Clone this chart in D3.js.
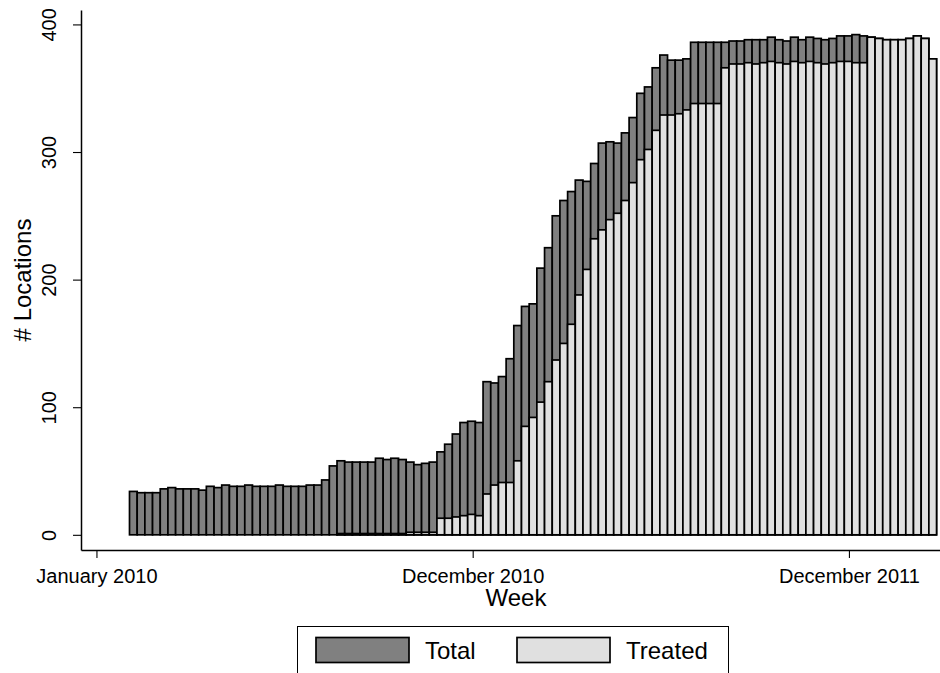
<!DOCTYPE html>
<html>
<head>
<meta charset="utf-8">
<script src="https://cdn.jsdelivr.net/npm/d3@7"></script>
<style>
  html, body { margin: 0; padding: 0; background: #ffffff; }
  svg { display: block; font-family: "Liberation Sans", Arial, Helvetica, sans-serif; }
</style>
</head>
<body>
<svg id="chart" width="940" height="673"></svg>
<script>
// ---- data ----
const totalLocations = [
  34,33,33,33,36,37,36,36,36,35,
  38,37,39,38,38,39,38,38,38,39,
  38,38,38,39,39,43,54,58,57,57,
  57,57,60,59,60,59,57,55,56,57,
  65,71,79,88,89,88,120,119,124,138,
  164,179,181,209,225,250,262,269,278,277,
  291,307,308,307,315,327,346,351,366,376,
  372,372,373,386,386,386,386,386,387,387,
  388,388,388,390,388,387,390,388,390,389,
  388,389,391,391,392,391,390,389,388,388,
  388,389,391,389,373
];
const treatedLocations = [
  0,0,0,0,0,0,0,0,0,0,
  0,0,0,0,0,0,0,0,0,0,
  0,0,0,0,0,0,0,1,1,1,
  1,1,1,1,1,1,2,2,2,2,
  13,13,14,15,16,15,32,39,41,41,
  58,85,92,104,120,137,150,165,188,208,
  232,239,247,252,262,276,294,302,317,329,
  329,330,333,338,338,338,338,366,369,369,
  370,369,370,371,370,369,371,370,371,370,
  369,370,371,371,370,370,390,389,388,388,
  388,389,391,389,373
];
const tickWeeks = [-4.8, 44.15, 93.1];
const tickLabels = ["January 2010", "December 2010", "December 2011"];
const yTicks = [0, 100, 200, 300, 400];
const seriesNames = ["Total", "Treated"];
const seriesColors = ["#808080", "#e0e0e0"];

// ---- layout ----
const svg = d3.select("#chart");
const plotLeft = 81, plotRight = 951, plotTop = 10, plotBottom = 550;

const weeks = totalLocations.map((d, i) => i);

const x = d3.scaleLinear()
  .domain([-6.81, 106.38])
  .range([plotLeft, plotRight]);

const y = d3.scaleLinear()
  .domain([-11.9, 411.3])
  .range([plotBottom, plotTop]);

const barW = x(1) - x(0);

// total bars
svg.append("g").selectAll("rect")
  .data(weeks)
  .join("rect")
  .attr("x", i => x(i - 0.5))
  .attr("width", barW)
  .attr("y", i => y(totalLocations[i]))
  .attr("height", i => y(0) - y(totalLocations[i]))
  .attr("fill", seriesColors[0])
  .attr("stroke", "#000")
  .attr("stroke-width", 1.7);

// treated bars
svg.append("g").selectAll("rect")
  .data(weeks.filter(i => treatedLocations[i] > 0))
  .join("rect")
  .attr("x", i => x(i - 0.5))
  .attr("width", barW)
  .attr("y", i => y(treatedLocations[i]))
  .attr("height", i => y(0) - y(treatedLocations[i]))
  .attr("fill", seriesColors[1])
  .attr("stroke", "#000")
  .attr("stroke-width", 1.7);

// x axis
const xAxis = d3.axisBottom(x)
  .tickValues(tickWeeks)
  .tickFormat((d, i) => tickLabels[i])
  .tickSize(8)
  .tickSizeOuter(0)
  .tickPadding(10.5);
const gx = svg.append("g")
  .attr("transform", `translate(0,${plotBottom})`)
  .call(xAxis);
gx.select(".domain").attr("stroke", "#000").attr("stroke-width", 1.5);
gx.selectAll(".tick line").attr("stroke", "#000").attr("stroke-width", 1.1);
gx.selectAll(".tick text")
  .attr("fill", "#000")
  .style("font-size", "20px")
  .style("font-family", "'Liberation Sans', Arial, sans-serif");

// y axis
const yAxis = d3.axisLeft(y)
  .tickValues(yTicks)
  .tickFormat(d3.format("d"))
  .tickSize(8)
  .tickSizeOuter(0);
const gy = svg.append("g")
  .attr("transform", `translate(${plotLeft},0)`)
  .call(yAxis);
gy.select(".domain").attr("stroke", "#000").attr("stroke-width", 1.5);
gy.selectAll(".tick line").attr("stroke", "#000").attr("stroke-width", 1.1);
gy.selectAll(".tick text")
  .attr("fill", "#000")
  .attr("transform", "rotate(-90)")
  .attr("x", 0)
  .attr("y", -25)
  .attr("dy", 0)
  .style("text-anchor", "middle")
  .style("font-size", "20px")
  .style("font-family", "'Liberation Sans', Arial, sans-serif");

// axis titles
svg.append("text")
  .attr("x", (plotLeft + plotRight) / 2)
  .attr("y", 606)
  .attr("text-anchor", "middle")
  .style("font-size", "24px")
  .text("Week");

svg.append("text")
  .attr("transform", `translate(31,${(plotTop + plotBottom) / 2}) rotate(-90)`)
  .attr("text-anchor", "middle")
  .style("font-size", "24px")
  .text("# Locations");

// legend
const legend = svg.append("g");
legend.append("rect")
  .attr("x", 297.5).attr("y", 626.5)
  .attr("width", 431).attr("height", 70)
  .attr("fill", "#fff").attr("stroke", "#000").attr("stroke-width", 1);

const legendX = [316, 517];
seriesNames.forEach((name, k) => {
  legend.append("rect")
    .attr("x", legendX[k]).attr("y", 637.5)
    .attr("width", 93).attr("height", 25)
    .attr("fill", seriesColors[k])
    .attr("stroke", "#000").attr("stroke-width", 1.7);
  legend.append("text")
    .attr("x", legendX[k] + 109)
    .attr("y", 659)
    .style("font-size", "24px")
    .text(name);
});
</script>
</body>
</html>
